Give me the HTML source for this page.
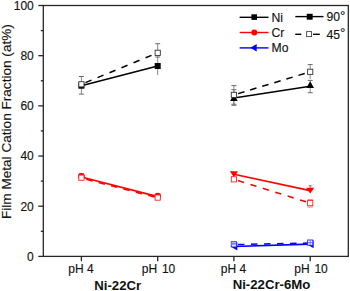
<!DOCTYPE html><html><head><meta charset="utf-8"><style>html,body{margin:0;padding:0;background:#fff;width:350px;height:291px;overflow:hidden}svg{display:block}text{font-family:"Liberation Sans",sans-serif;stroke:#222;stroke-width:0.15px}</style></head><body>
<svg width="350" height="291" viewBox="0 0 350 291">
<rect x="43.3" y="5.5" width="305.0" height="250.89999999999998" fill="none" stroke="#262626" stroke-width="1.3"/>
<line x1="38.3" y1="256.40" x2="43.3" y2="256.40" stroke="#262626" stroke-width="1.3"/>
<text x="33.8" y="260.70" font-size="12" text-anchor="end" fill="#111">0</text>
<line x1="40.8" y1="231.31" x2="43.3" y2="231.31" stroke="#262626" stroke-width="1.3"/>
<line x1="38.3" y1="206.22" x2="43.3" y2="206.22" stroke="#262626" stroke-width="1.3"/>
<text x="33.8" y="210.52" font-size="12" text-anchor="end" fill="#111">20</text>
<line x1="40.8" y1="181.13" x2="43.3" y2="181.13" stroke="#262626" stroke-width="1.3"/>
<line x1="38.3" y1="156.04" x2="43.3" y2="156.04" stroke="#262626" stroke-width="1.3"/>
<text x="33.8" y="160.34" font-size="12" text-anchor="end" fill="#111">40</text>
<line x1="40.8" y1="130.95" x2="43.3" y2="130.95" stroke="#262626" stroke-width="1.3"/>
<line x1="38.3" y1="105.86" x2="43.3" y2="105.86" stroke="#262626" stroke-width="1.3"/>
<text x="33.8" y="110.16" font-size="12" text-anchor="end" fill="#111">60</text>
<line x1="40.8" y1="80.77" x2="43.3" y2="80.77" stroke="#262626" stroke-width="1.3"/>
<line x1="38.3" y1="55.68" x2="43.3" y2="55.68" stroke="#262626" stroke-width="1.3"/>
<text x="33.8" y="59.98" font-size="12" text-anchor="end" fill="#111">80</text>
<line x1="40.8" y1="30.59" x2="43.3" y2="30.59" stroke="#262626" stroke-width="1.3"/>
<line x1="38.3" y1="5.50" x2="43.3" y2="5.50" stroke="#262626" stroke-width="1.3"/>
<text x="33.8" y="9.80" font-size="12" text-anchor="end" fill="#111">100</text>
<line x1="81.4" y1="256.4" x2="81.4" y2="261.2" stroke="#262626" stroke-width="1.3"/>
<text x="81.0" y="272.6" font-size="12" text-anchor="middle" fill="#111">pH 4</text>
<line x1="157.7" y1="256.4" x2="157.7" y2="261.2" stroke="#262626" stroke-width="1.3"/>
<text x="158.5" y="272.6" font-size="12" word-spacing="1.5" text-anchor="middle" fill="#111">pH 10</text>
<line x1="233.9" y1="256.4" x2="233.9" y2="261.2" stroke="#262626" stroke-width="1.3"/>
<text x="233.5" y="272.6" font-size="12" text-anchor="middle" fill="#111">pH 4</text>
<line x1="310.2" y1="256.4" x2="310.2" y2="261.2" stroke="#262626" stroke-width="1.3"/>
<text x="311.0" y="272.6" font-size="12" word-spacing="1.5" text-anchor="middle" fill="#111">pH 10</text>
<text x="117.7" y="290.2" font-size="13.2" font-weight="bold" text-anchor="middle" fill="#111" style="stroke:none">Ni-22Cr</text>
<text x="271.5" y="289.0" font-size="13.2" font-weight="bold" text-anchor="middle" fill="#111" style="stroke:none">Ni-22Cr-6Mo</text>
<text transform="translate(11.1,121.6) rotate(-90)" x="0" y="0" font-size="13.6" text-anchor="middle" fill="#111">Film Metal Cation Fraction (at%)</text>
<line x1="81.4" y1="76.5" x2="81.4" y2="94.1" stroke="#888" stroke-width="1"/>
<line x1="78.9" y1="76.5" x2="83.9" y2="76.5" stroke="#6a6a6a" stroke-width="1"/>
<line x1="78.9" y1="94.1" x2="83.9" y2="94.1" stroke="#6a6a6a" stroke-width="1"/>
<line x1="157.7" y1="57.0" x2="157.7" y2="75.0" stroke="#888" stroke-width="1"/>
<line x1="155.2" y1="57.0" x2="160.2" y2="57.0" stroke="#6a6a6a" stroke-width="1"/>
<line x1="157.7" y1="43.7" x2="157.7" y2="57.0" stroke="#888" stroke-width="1"/>
<line x1="155.2" y1="43.7" x2="160.2" y2="43.7" stroke="#6a6a6a" stroke-width="1"/>
<line x1="81.4" y1="85.7" x2="157.7" y2="66.0" stroke="#000" stroke-width="1.5"/>
<rect x="78.4" y="82.7" width="6" height="6" fill="#000"/>
<rect x="154.7" y="63.0" width="6" height="6" fill="#000"/>
<line x1="81.4" y1="84.3" x2="157.7" y2="52.8" stroke="#000" stroke-width="1.5" stroke-dasharray="6.5 6.5" stroke-dashoffset="8.6"/>
<rect x="78.80000000000001" y="81.7" width="5.2" height="5.2" fill="#fff" stroke="#333" stroke-width="0.9"/>
<rect x="155.1" y="50.199999999999996" width="5.2" height="5.2" fill="#fff" stroke="#333" stroke-width="0.9"/>
<line x1="78.9" y1="173.9" x2="83.9" y2="173.9" stroke="#ff2020" stroke-width="1"/>
<line x1="81.4" y1="177.0" x2="157.7" y2="196.6" stroke="#ff0000" stroke-width="1.7"/>
<circle cx="81.4" cy="176.4" r="3.3" fill="#ff0000"/>
<circle cx="157.7" cy="196.0" r="3.3" fill="#ff0000"/>
<line x1="81.4" y1="178.1" x2="157.7" y2="197.8" stroke="#ff0000" stroke-width="1.5" stroke-dasharray="6.4 6.4" stroke-dashoffset="7.8"/>
<rect x="78.80000000000001" y="175.1" width="5.2" height="5.2" fill="#fff" stroke="#ff2222" stroke-width="0.9"/>
<rect x="155.1" y="195.0" width="5.2" height="5.2" fill="#fff" stroke="#ff2222" stroke-width="0.9"/>
<line x1="233.9" y1="89.7" x2="233.9" y2="105.3" stroke="#888" stroke-width="1"/>
<line x1="231.4" y1="89.7" x2="236.4" y2="89.7" stroke="#6a6a6a" stroke-width="1"/>
<line x1="231.4" y1="105.3" x2="236.4" y2="105.3" stroke="#6a6a6a" stroke-width="1"/>
<line x1="310.2" y1="80.4" x2="310.2" y2="92.7" stroke="#888" stroke-width="1"/>
<line x1="307.7" y1="80.4" x2="312.7" y2="80.4" stroke="#6a6a6a" stroke-width="1"/>
<line x1="307.7" y1="92.7" x2="312.7" y2="92.7" stroke="#6a6a6a" stroke-width="1"/>
<line x1="233.9" y1="85.6" x2="233.9" y2="104.2" stroke="#888" stroke-width="1"/>
<line x1="231.4" y1="85.6" x2="236.4" y2="85.6" stroke="#6a6a6a" stroke-width="1"/>
<line x1="231.4" y1="104.2" x2="236.4" y2="104.2" stroke="#6a6a6a" stroke-width="1"/>
<line x1="310.2" y1="64.6" x2="310.2" y2="78.8" stroke="#888" stroke-width="1"/>
<line x1="307.7" y1="64.6" x2="312.7" y2="64.6" stroke="#6a6a6a" stroke-width="1"/>
<line x1="233.9" y1="97.9" x2="310.2" y2="86.3" stroke="#000" stroke-width="1.5"/>
<polygon points="230.1,100.89999999999999 237.70000000000002,100.89999999999999 233.9,94.3" fill="#000"/>
<polygon points="306.4,87.89999999999999 314.0,87.89999999999999 310.2,81.3" fill="#000"/>
<line x1="233.9" y1="94.9" x2="310.2" y2="71.8" stroke="#000" stroke-width="1.5" stroke-dasharray="6.6 6.0" stroke-dashoffset="8.2"/>
<rect x="231.3" y="92.30000000000001" width="5.2" height="5.2" fill="#fff" stroke="#333" stroke-width="0.9"/>
<rect x="307.59999999999997" y="69.2" width="5.2" height="5.2" fill="#fff" stroke="#333" stroke-width="0.9"/>
<line x1="233.9" y1="174.3" x2="310.2" y2="190.6" stroke="#ff0000" stroke-width="1.6"/>
<polygon points="229.8,171.35000000000002 238.0,171.35000000000002 233.9,177.25" fill="#ff0000"/>
<polygon points="306.09999999999997,187.65 314.3,187.65 310.2,193.54999999999998" fill="#ff0000"/>
<line x1="308.7" y1="185.8" x2="311.7" y2="185.8" stroke="#ff4040" stroke-width="1"/>
<line x1="310.2" y1="185.3" x2="310.2" y2="188" stroke="#ff4040" stroke-width="1"/>
<line x1="233.9" y1="179.3" x2="310.2" y2="203.1" stroke="#ff0000" stroke-width="1.5" stroke-dasharray="6.3 6.7" stroke-dashoffset="8.7"/>
<rect x="231.3" y="176.70000000000002" width="5.2" height="5.2" fill="#fff" stroke="#ff2222" stroke-width="0.9"/>
<rect x="307.59999999999997" y="200.5" width="5.2" height="5.2" fill="#fff" stroke="#ff2222" stroke-width="0.9"/>
<line x1="307.4" y1="199.7" x2="313.0" y2="199.7" stroke="#ff6060" stroke-width="0.9"/>
<line x1="307.4" y1="207.0" x2="313.0" y2="207.0" stroke="#ff6060" stroke-width="0.9"/>
<line x1="233.9" y1="246.5" x2="310.2" y2="244.1" stroke="#0000ff" stroke-width="1.7"/>
<polygon points="237.3,242.4 237.3,250.4 230.5,246.4" fill="#0000ff"/>
<polygon points="313.59999999999997,240.2 313.59999999999997,248.2 306.8,244.2" fill="#0000ff"/>
<line x1="233.9" y1="244.6" x2="310.2" y2="243.0" stroke="#0000ff" stroke-width="1.5" stroke-dasharray="6.5 6.5" stroke-dashoffset="8.9"/>
<rect x="231.3" y="241.70000000000002" width="5.2" height="5.2" fill="#fff" stroke="#2222ff" stroke-width="0.9"/>
<rect x="307.59999999999997" y="240.0" width="5.2" height="5.2" fill="#fff" stroke="#2222ff" stroke-width="0.9"/>
<rect x="231.70000000000002" y="242.3" width="4.4" height="3.0" fill="#a8a8ff"/>
<line x1="231.70000000000002" y1="243.6" x2="236.1" y2="243.6" stroke="#6060ff" stroke-width="0.8"/>
<line x1="310.2" y1="240.0" x2="310.2" y2="245.0" stroke="#6060ff" stroke-width="0.9"/>
<line x1="308.0" y1="242.6" x2="312.4" y2="242.6" stroke="#6060ff" stroke-width="0.9"/>
<line x1="239.6" y1="17.3" x2="268.5" y2="17.3" stroke="#000" stroke-width="1.4"/>
<rect x="251.39999999999998" y="14.3" width="5.6" height="5.6" fill="#000"/>
<line x1="239.6" y1="32.5" x2="268.5" y2="32.5" stroke="#ff0000" stroke-width="1.4"/>
<circle cx="254.3" cy="32.5" r="3.0" fill="#ff0000"/>
<line x1="239.6" y1="47.9" x2="268.5" y2="47.9" stroke="#0000ff" stroke-width="1.4"/>
<polygon points="256.7,44.099999999999994 256.7,51.5 250.3,47.8" fill="#0000ff"/>
<text x="271.5" y="22.1" font-size="12.2" fill="#111">Ni</text>
<text x="271.5" y="37.2" font-size="12.2" fill="#111">Cr</text>
<text x="271.5" y="51.8" font-size="12.2" fill="#111">Mo</text>
<line x1="295.3" y1="16.6" x2="323.5" y2="16.6" stroke="#000" stroke-width="1.4"/>
<rect x="306.75" y="13.8" width="5.9" height="5.9" fill="#000"/>
<line x1="295.3" y1="34.3" x2="301.3" y2="34.3" stroke="#000" stroke-width="1.4"/>
<line x1="313.0" y1="34.3" x2="319.8" y2="34.3" stroke="#000" stroke-width="1.4"/>
<rect x="306.6" y="31.6" width="5.0" height="5.0" fill="#fff" stroke="#444" stroke-width="0.9"/>
<text x="326.5" y="21.4" font-size="12.2" fill="#111">90<tspan font-size="13.5" dy="-1.2">°</tspan></text>
<text x="326.5" y="38.5" font-size="12.2" fill="#111">45<tspan font-size="13.5" dy="-1.2">°</tspan></text>
</svg></body></html>
